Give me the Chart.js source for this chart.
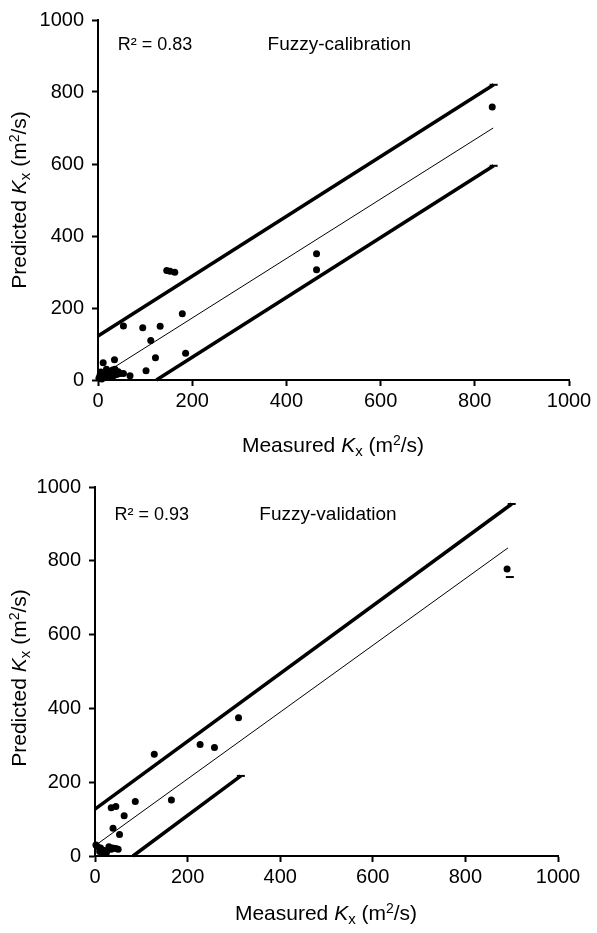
<!DOCTYPE html>
<html>
<head>
<meta charset="utf-8">
<script src="https://cdn.jsdelivr.net/npm/chart.js@4.4.0/dist/chart.umd.min.js"></script>
<style>
    body { margin: 0; background: #fff; font-family: "Liberation Sans", Arial, sans-serif; }
    #wrap { position: relative; width: 597px; height: 933px; }
    canvas { position: absolute; left: 0; }
    .title { position: absolute; font-size: 21px; color: #000; white-space: nowrap; }
    .ytitle { transform: translate(-50%, -50%) rotate(-90deg); }
    .xtitle { transform: translate(-50%, -50%); }
    sup { font-size: 14px; vertical-align: 7px; line-height: 0; }
    sub { font-size: 15px; vertical-align: -4px; line-height: 0; }
</style>
</head>
<body>
<div id="wrap">
    <canvas id="chart1" style="top:0"></canvas>
    <canvas id="chart2" style="top:450px"></canvas>

    <div class="title ytitle" style="left:19px; top:200px">Predicted <i>K</i><sub>x</sub> (m<sup>2</sup>/s)</div>
    <div class="title xtitle" style="left:333px; top:445px">Measured <i>K</i><sub>x</sub> (m<sup>2</sup>/s)</div>
    <div class="title ytitle" style="left:19px; top:678px">Predicted <i>K</i><sub>x</sub> (m<sup>2</sup>/s)</div>
    <div class="title xtitle" style="left:326px; top:913px">Measured <i>K</i><sub>x</sub> (m<sup>2</sup>/s)</div>
</div>

<script>
// Fuzzy-calibration
const calMeasured = [146, 153, 163, 179, 95, 132, 112, 122, 186, 102, 68, 54, 35, 11, 4, 11, 15, 22, 25, 31, 36, 43, 33, 47, 2, 8, 54, 18, 28, 6, 40, 464, 464, 837]
const calPredicted = [304, 302, 299, 184, 145, 149, 110, 62, 74, 26, 12, 18, 56, 48, 12, 18, 9, 20, 14, 28, 30, 23, 12, 18, 5, 3, 150, 30, 8, 22, 15, 351, 306, 758]
const calUpperX = [0, 840]
const calUpperY = [122, 820]
const calFitX = [0, 839]
const calFitY = [7, 700]
const calLowerX = [124, 840]
const calLowerY = [0, 595]

// Fuzzy-validation
const valMeasured = [310, 128, 227, 258, 87, 165, 35, 45, 63, 39, 53, 2, 5, 12, 20, 25, 30, 38, 45, 50, 18, 10, 35, 890]
const valPredicted = [375, 276, 302, 294, 148, 152, 131, 134, 109, 75, 58, 30, 26, 22, 15, 10, 25, 22, 20, 18, 8, 12, 18, 778]
const valUpperX = [0, 900]
const valUpperY = [127, 954]
const valFitX = [0, 892]
const valFitY = [28, 835]
const valLowerX = [82, 315]
const valLowerY = [0, 217]
const valMarkX = [896]
const valMarkY = [756]

const ticks = [0, 200, 400, 600, 800, 1000]

const toXY = (xs, ys) => xs.map((x, i) => ({ x, y: ys[i] }))

const lineSet = (xs, ys, width, endMark) => ({
    type: 'line',
    data: toXY(xs, ys),
    borderColor: '#000',
    borderWidth: width,
    pointRadius: xs.map((x, i) => (endMark && i === xs.length - 1) ? 4 : 0),
    pointStyle: 'line',
    pointBorderWidth: 2,
    pointBorderColor: '#000',
    fill: false
})

const dots = (xs, ys) => ({
    data: toXY(xs, ys),
    backgroundColor: '#000',
    borderColor: '#000',
    pointRadius: 3.5,
    borderWidth: 0
})

const textPlugin = {
    id: 'texts',
    afterDraw(chart, args, opts) {
        const { ctx, scales: { x, y } } = chart
        ctx.save()
        ctx.fillStyle = '#000'
        ctx.textBaseline = 'middle'
        ctx.font = '18px "Liberation Sans", Arial, sans-serif'
        ctx.fillText('R\u00b2 = ' + opts.r2, x.getPixelForValue(42), y.getPixelForValue(opts.textY))
        ctx.font = '19px "Liberation Sans", Arial, sans-serif'
        ctx.fillText(opts.name, x.getPixelForValue(opts.nameX), y.getPixelForValue(opts.textY))
        ctx.restore()
    }
}

const drawChart = (id, w, h, area, sets, texts) => {
    const canvas = document.getElementById(id)
    canvas.width = w
    canvas.height = h
    canvas.style.width = w + 'px'
    canvas.style.height = h + 'px'

    const axis = (pad, extra) => Object.assign({
        type: 'linear',
        min: 0,
        max: 1000,
        border: { color: '#000', width: 2 },
        grid: { drawOnChartArea: false, color: '#000', tickLength: 6, tickWidth: 2 },
        ticks: {
            color: '#000',
            font: { size: 20, family: '"Liberation Sans", Arial, sans-serif' },
            padding: pad,
            autoSkip: false,
            maxRotation: 0,
            callback: v => String(v)
        },
        afterBuildTicks: scale => { scale.ticks = ticks.map(v => ({ value: v })) }
    }, extra)

    new Chart(canvas, {
        type: 'scatter',
        data: { datasets: sets },
        options: {
            responsive: false,
            animation: false,
            devicePixelRatio: 1,
            clip: false,
            layout: { padding: { left: 0, top: area.top, right: w - area.right, bottom: 0 } },
            scales: {
                x: axis(3, { afterFit: scale => { scale.height = h - area.bottom } }),
                y: axis(8, { afterFit: scale => { scale.width = area.left } })
            },
            plugins: {
                legend: { display: false },
                tooltip: { enabled: false },
                texts
            }
        },
        plugins: [textPlugin]
    })
}

drawChart('chart1', 597, 450, { left: 98, right: 569, top: 20, bottom: 380 }, [
    dots(calMeasured, calPredicted),
    lineSet(calUpperX, calUpperY, 3.5, true),
    lineSet(calFitX, calFitY, 1, false),
    lineSet(calLowerX, calLowerY, 3.5, true)
], { r2: '0.83', name: 'Fuzzy-calibration', nameX: 360, textY: 930 })

drawChart('chart2', 597, 483, { left: 95, right: 558, top: 37, bottom: 406 }, [
    dots(valMeasured, valPredicted),
    lineSet(valUpperX, valUpperY, 3.5, true),
    lineSet(valFitX, valFitY, 1, false),
    lineSet(valLowerX, valLowerY, 3.5, true),
    Object.assign(lineSet(valMarkX, valMarkY, 0, true), { showLine: false })
], { r2: '0.93', name: 'Fuzzy-validation', nameX: 355, textY: 925 })
</script>
</body>
</html>
